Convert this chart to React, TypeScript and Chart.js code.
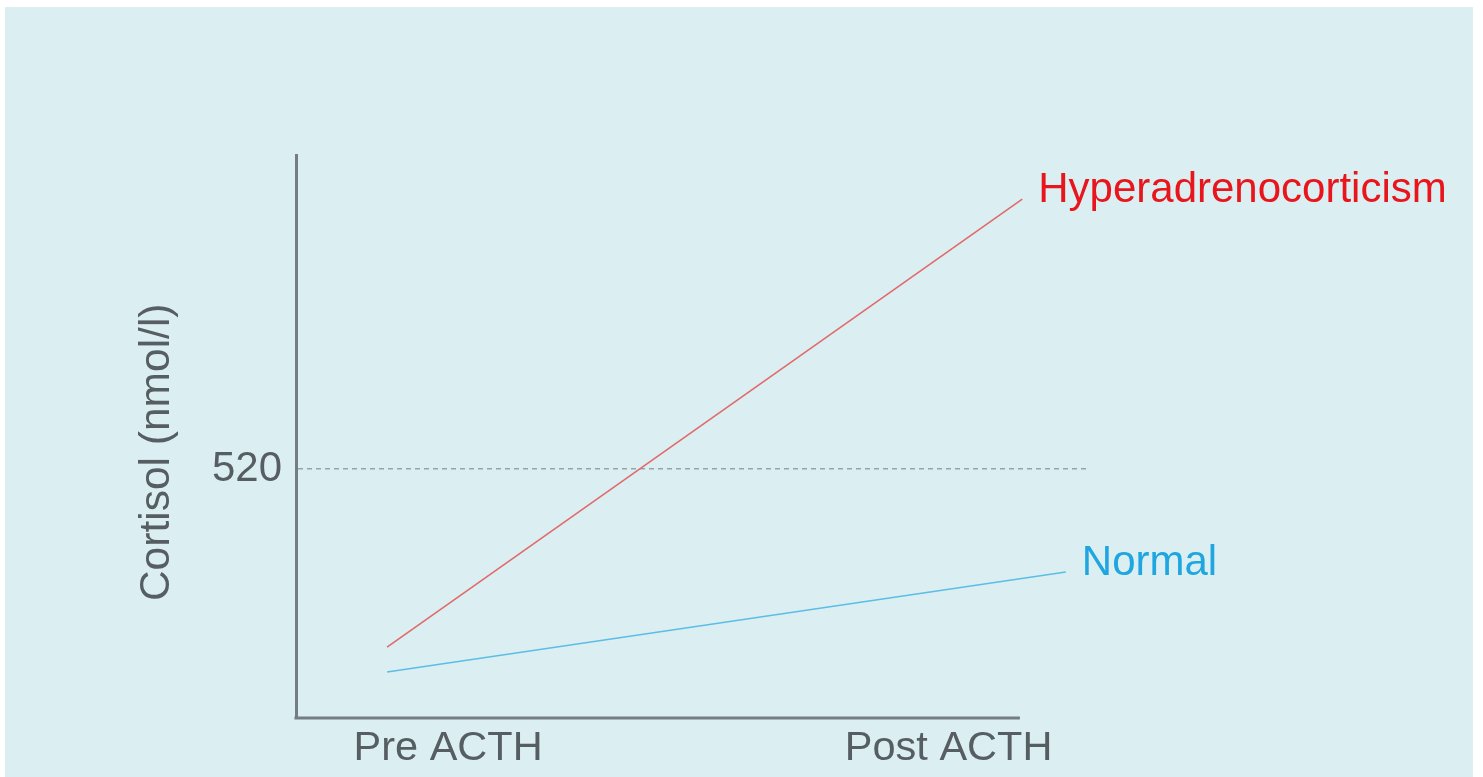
import { useEffect, useRef } from "react";
import { Chart, registerables } from "chart.js";

Chart.register(...registerables);

// Category labels on the x axis and where they sit on the 0..100 x scale
const categories = ["Pre ACTH", "Post ACTH"];
const categoryPositions = [19.2, 82.4];

// Y axis
const yTickValues = [520];
const yTitle = "Cortisol (nmol/l)";
const yMax = 1176;
const yTitleCenterValue = 555;

// Series
const seriesNames = ["Hyperadrenocorticism", "Normal"];
const hyperX = [11.5, 91.7];
const hyperY = [148, 1084];
const normalX = [11.5, 97.2];
const normalY = [96, 305];

// Extent of the drawn x axis line (in x-scale units)
const xAxisEnd = 91.4;

const FONT = "'Liberation Sans', Arial, Helvetica, sans-serif";
const AXIS_TEXT = "#565e63";
const AXIS_LINE = "#737d82";
const LINE_COLORS = ["#e2696c", "#5cbde6"];
const TEXT_COLORS = ["#e8161c", "#1fa6e0"];

const panelPlugin = {
  id: "panelPlugin",
  beforeDraw(chart: any) {
    const { ctx, width, height } = chart;
    ctx.save();
    ctx.fillStyle = "#ffffff";
    ctx.fillRect(0, 0, width, height);
    ctx.fillStyle = "#dbeff2";
    ctx.fillRect(5, 7, width - 15, height - 7);
    ctx.restore();
  },
  afterDatasetsDraw(chart: any) {
    const { ctx, chartArea } = chart;
    const xs = chart.scales.x;
    const ys = chart.scales.y;
    ctx.save();
    // x axis line
    ctx.strokeStyle = AXIS_LINE;
    ctx.lineWidth = 3;
    ctx.beginPath();
    ctx.moveTo(xs.getPixelForValue(0) - 1.5, chartArea.bottom);
    ctx.lineTo(xs.getPixelForValue(xAxisEnd), chartArea.bottom);
    ctx.stroke();
    // y axis title
    ctx.save();
    ctx.translate(ys.left + 25, ys.getPixelForValue(yTitleCenterValue));
    ctx.rotate(-Math.PI / 2);
    ctx.font = `42.5px ${FONT}`;
    ctx.fillStyle = AXIS_TEXT;
    ctx.textAlign = "center";
    ctx.textBaseline = "middle";
    ctx.fillText(yTitle, 0, 0);
    ctx.restore();
    // series labels at line ends
    ctx.font = `42px ${FONT}`;
    ctx.textAlign = "left";
    ctx.textBaseline = "alphabetic";
    chart.data.datasets.forEach((ds: any, i: number) => {
      const meta = chart.getDatasetMeta(i);
      const last = meta.data[meta.data.length - 1];
      ctx.fillStyle = TEXT_COLORS[i];
      ctx.fillText(ds.label, last.x + 16, last.y + 3);
    });
    ctx.restore();
  },
};

export default function App() {
  const ref = useRef<HTMLCanvasElement>(null);

  useEffect(() => {
    document.body.style.margin = "0";
    const canvas = ref.current!;
    const chart = new Chart(canvas, {
      type: "line",
      data: {
        datasets: [
          {
            label: seriesNames[0],
            data: hyperX.map((x, i) => ({ x, y: hyperY[i] })),
            borderColor: LINE_COLORS[0],
            borderWidth: 1.6,
            pointRadius: 0,
            fill: false,
          },
          {
            label: seriesNames[1],
            data: normalX.map((x, i) => ({ x, y: normalY[i] })),
            borderColor: LINE_COLORS[1],
            borderWidth: 1.6,
            pointRadius: 0,
            fill: false,
          },
        ],
      },
      options: {
        animation: false,
        responsive: false,
        devicePixelRatio: 1,
        layout: { padding: { left: 132, right: 395, top: 155, bottom: 4 } },
        plugins: {
          legend: { display: false },
          tooltip: { enabled: false },
        },
        scales: {
          x: {
            type: "linear",
            min: 0,
            max: 100,
            afterBuildTicks: (s: any) => {
              s.ticks = categoryPositions.map((v) => ({ value: v }));
            },
            afterFit: (s: any) => {
              s.height = 55;
            },
            ticks: {
              autoSkip: false,
              maxRotation: 0,
              padding: -2,
              color: AXIS_TEXT,
              font: { family: FONT, size: 41.5 },
              callback: (_v: any, i: number) => categories[i],
            },
            grid: { display: false },
            border: { display: false },
          },
          y: {
            type: "linear",
            min: 0,
            max: yMax,
            afterBuildTicks: (s: any) => {
              s.ticks = yTickValues.map((v) => ({ value: v }));
            },
            afterFit: (s: any) => {
              s.width = 164;
            },
            ticks: {
              padding: 14,
              color: AXIS_TEXT,
              font: { family: FONT, size: 42 },
            },
            grid: { drawTicks: false, color: "#9aa3a6", lineWidth: 1.5 },
            border: { display: true, color: AXIS_LINE, width: 3, dash: [5, 4] },
            title: { display: false },
          },
        },
      },
      plugins: [panelPlugin],
    });
    return () => chart.destroy();
  }, []);

  return (
    <div style={{ position: "absolute", left: 0, top: 0, width: 1483, height: 777 }}>
      <canvas ref={ref} width={1483} height={777} style={{ display: "block", width: 1483, height: 777 }} />
    </div>
  );
}
